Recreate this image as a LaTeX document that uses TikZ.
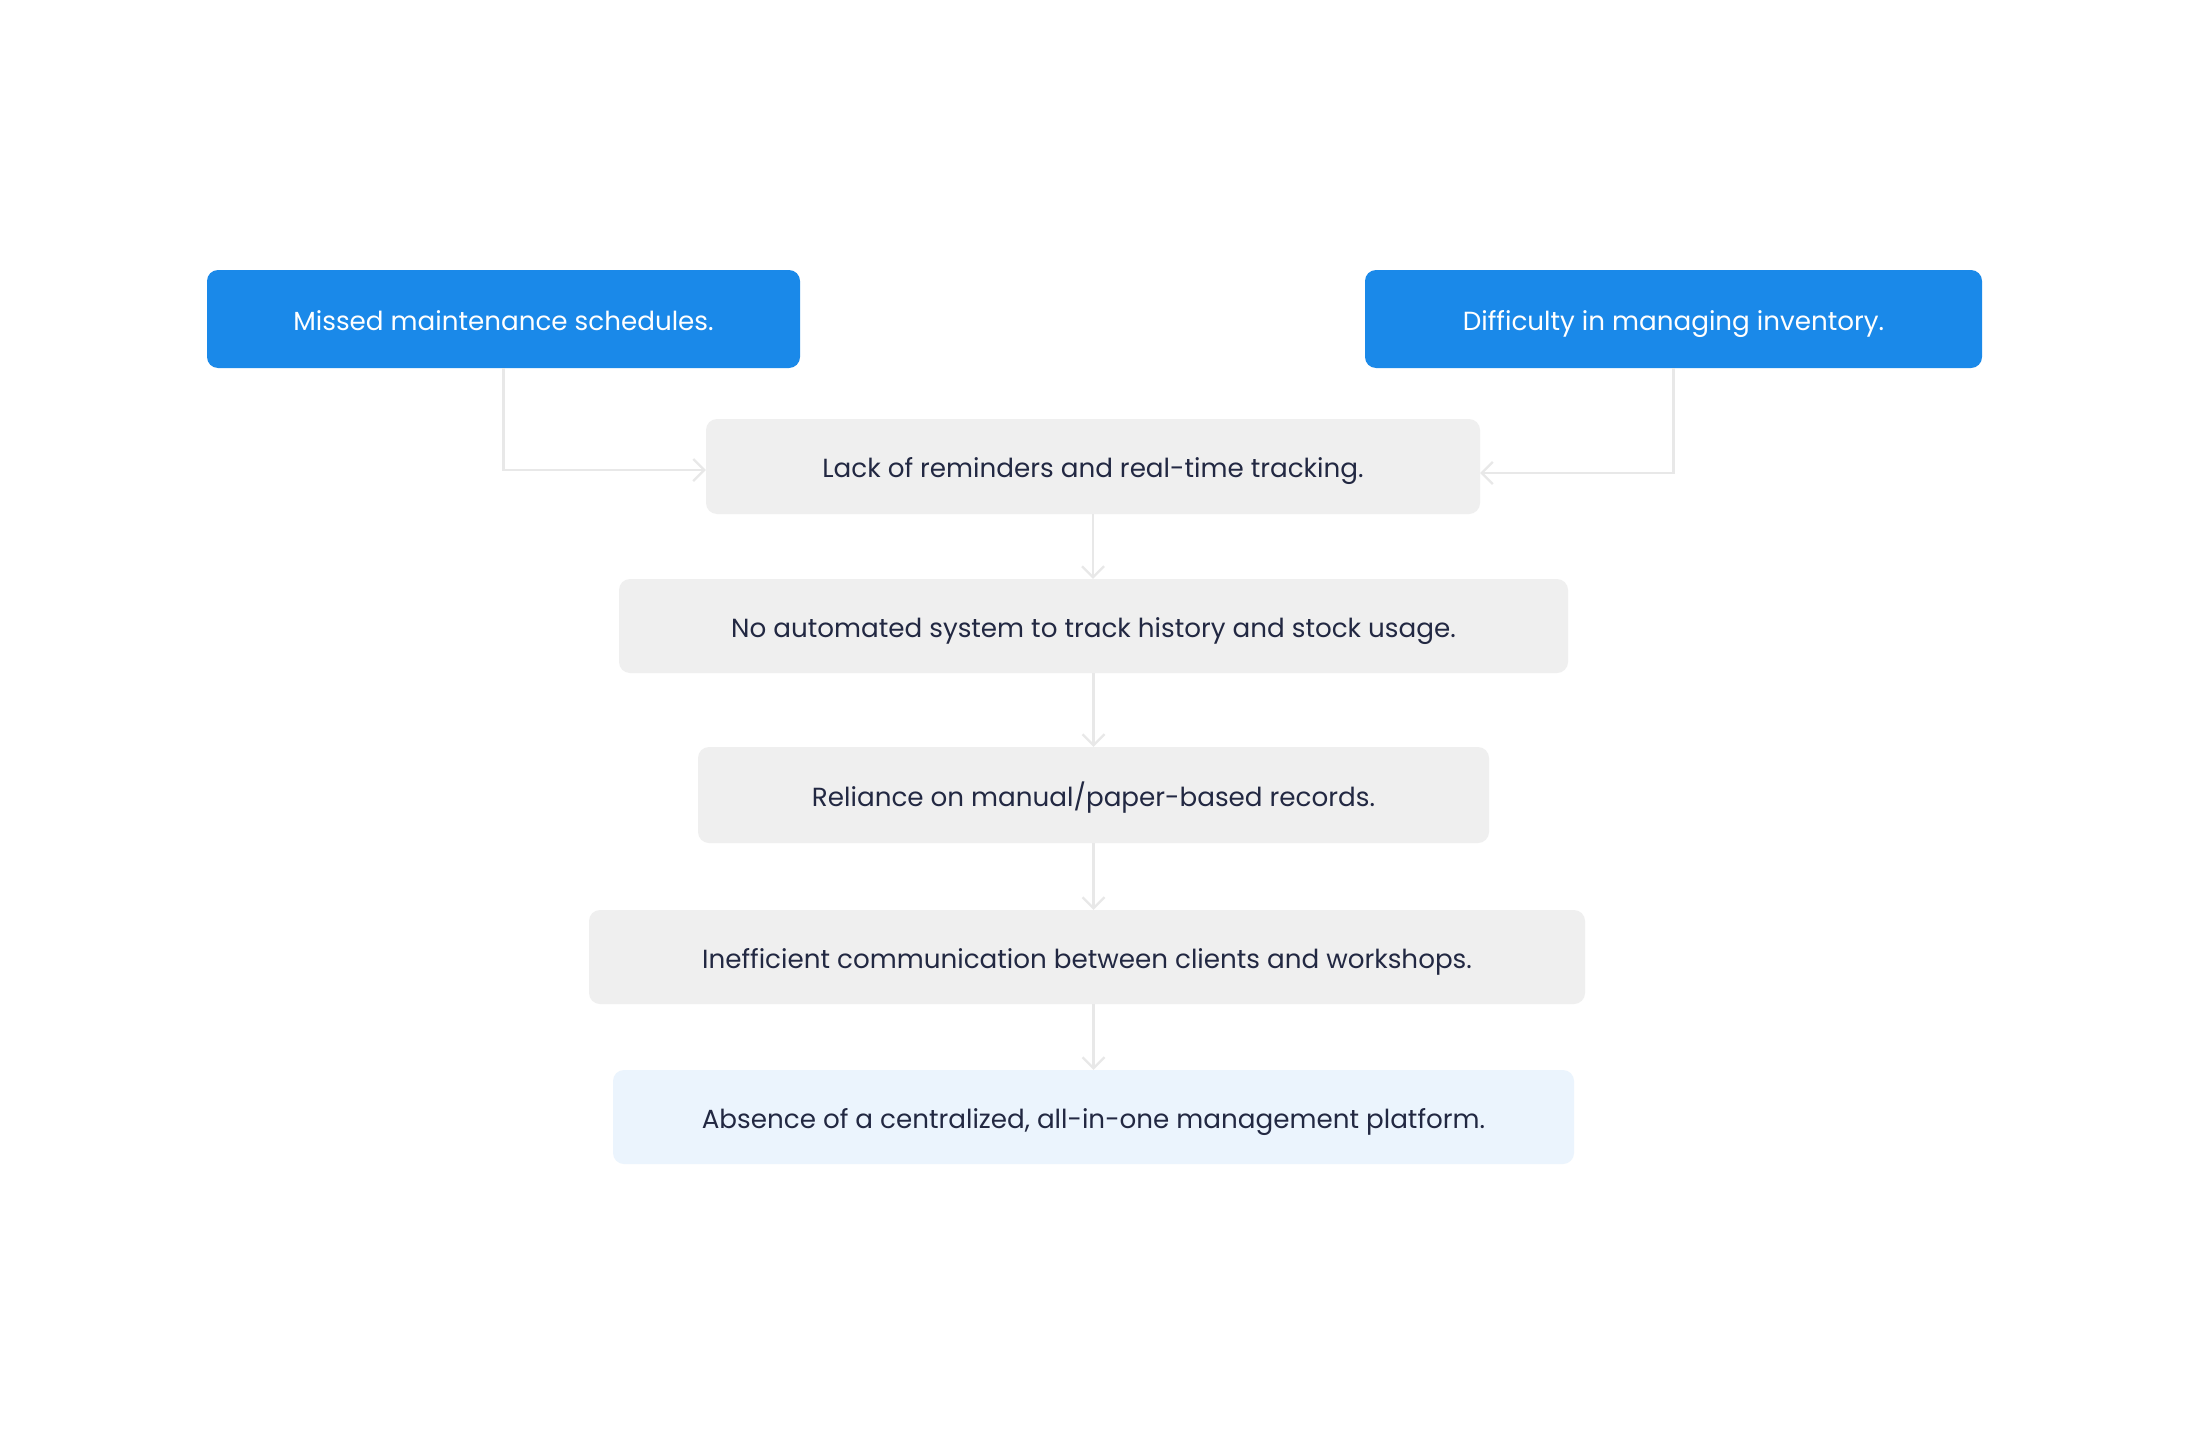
\documentclass[tikz,border=0pt]{standalone}
\usepackage{fontspec}
\setmainfont{Poppins}
\usetikzlibrary{arrows.meta}
\definecolor{topblue}{HTML}{1A89E9}
\definecolor{boxgray}{HTML}{EFEFEF}
\definecolor{lightblue}{HTML}{EBF4FD}
\definecolor{txt}{HTML}{222842}
\definecolor{conn}{HTML}{E8E8E8}
\tikzset{
  x=1pt, y=-1pt,
  base/.style={rounded corners=11pt, inner sep=0pt, align=center, text height=26pt, text depth=4pt, font=\fontsize{26.2}{30}\selectfont},
  topbox/.style={base, fill=topblue, text=white},
  graybox/.style={base, fill=boxgray, text=txt},
  finalbox/.style={base, fill=lightblue, text=txt},
  link/.style={draw=conn, line width=2.6pt, -{Straight Barb[length=11pt,width=22pt,line width=2.2pt]}}
}
\begin{document}
\begin{tikzpicture}
\useasboundingbox[fill=white] (0,0) rectangle (2190,1450);
\node[topbox, minimum width=593pt, minimum height=98pt] (miss) at (503.5,319) {Missed maintenance schedules.};
\node[topbox, minimum width=617pt, minimum height=98pt] (diff) at (1673.5,319) {Difficulty in managing inventory.};
\node[graybox, minimum width=774pt, minimum height=95pt] (lack) at (1093,466.5) {Lack of reminders and real-time tracking.};
\node[graybox, minimum width=949pt, minimum height=94pt] (auto) at (1093.5,626) {No automated system to track history and stock usage.};
\node[graybox, minimum width=791pt, minimum height=96pt] (rel) at (1093.5,795) {Reliance on manual/paper-based records.};
\node[graybox, minimum width=996pt, minimum height=94pt] (ineff) at (1087,957) {Inefficient communication between clients and workshops.};
\node[finalbox, minimum width=961pt, minimum height=94pt] (abs) at (1093.5,1117) {Absence of a centralized, all-in-one management platform.};
\draw[link] (miss.south) |- ([yshift=-3.5pt]lack.west);
\draw[link] (diff.south) |- ([yshift=-6.5pt]lack.east);
\draw[link] (lack.south) -- (lack.south |- auto.north);
\draw[link] (auto.south) -- (auto.south |- rel.north);
\draw[link] (rel.south) -- (rel.south |- ineff.north);
\draw[link] (rel.south |- ineff.south) -- (rel.south |- abs.north);
\end{tikzpicture}
\end{document}
